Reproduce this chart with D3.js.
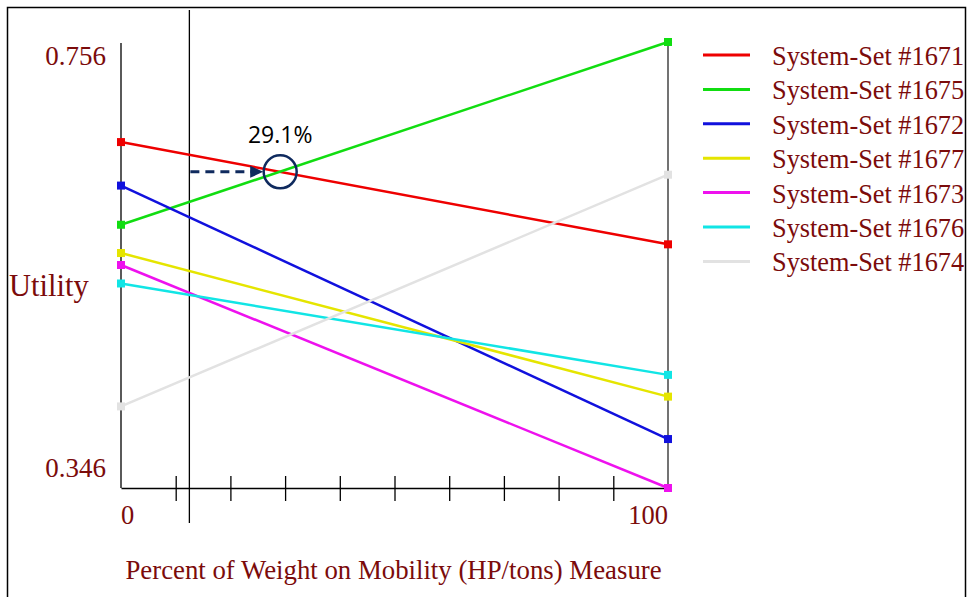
<!DOCTYPE html>
<html><head><meta charset="utf-8">
<script src="https://cdn.jsdelivr.net/npm/d3@7/dist/d3.min.js"></script>
<style>body{margin:0;background:#fff}svg{display:block}</style>
</head><body>
<svg id="c" width="972" height="597"></svg>
<script>
const seriesNames = ["System-Set #1671","System-Set #1675","System-Set #1672","System-Set #1677","System-Set #1673","System-Set #1676","System-Set #1674"];
const seriesColors = ["#ee0000","#11dd11","#1111dd","#e5e500","#ee11ee","#11e5e5","#e2e2e2"];
const valuesAt0 = [0.664,0.588,0.624,0.562,0.551,0.534,0.421];
const valuesAt100 = [0.570,0.756,0.391,0.430,0.346,0.450,0.634];
const xEnds = [0,100];
const xTicks = [0,10,20,30,40,50,60,70,80,90,100];
const yTickLabels = ["0.756","0.346"];
const yDomain = [0.346,0.756];
const markerX = 12.5;
const crossPct = 29.1;

const svg = d3.select("#c");
const x = d3.scaleLinear().domain([0,100]).range([121,668]);
const y = d3.scaleLinear().domain(yDomain).range([488,42]);
const dark = "#7b0b0b";
const serif = "'Liberation Serif','Times New Roman',serif";

// outer border
svg.append("path").attr("d","M7.5,600 V7.5 H965.5 V600").attr("fill","none").attr("stroke","#000").attr("stroke-width",1.5);

// left axis
svg.append("line").attr("x1",x(0)).attr("x2",x(0)).attr("y1",43).attr("y2",488).attr("stroke","#000").attr("stroke-width",1.3);
// right axis
svg.append("line").attr("x1",x(100)).attr("x2",x(100)).attr("y1",40).attr("y2",488).attr("stroke","#444").attr("stroke-width",1.5);
// bottom axis with ticks crossing
const xAxis = d3.axisBottom(x).tickValues(xTicks.slice(1,-1)).tickSize(0).tickFormat("");
const gx = svg.append("g").attr("transform","translate(0,488)").call(xAxis);
gx.select(".domain").attr("stroke","#000").attr("stroke-width",1.3);
gx.selectAll(".tick").append("line").attr("y1",-12).attr("y2",13).attr("stroke","#000").attr("stroke-width",1.3);

// marker vertical line
svg.append("line").attr("x1",x(markerX)).attr("x2",x(markerX)).attr("y1",10).attr("y2",523).attr("stroke","#000").attr("stroke-width",1.3);

// series lines
seriesNames.forEach((n,i)=>{
  const pts = [[xEnds[0],valuesAt0[i]],[xEnds[1],valuesAt100[i]]];
  svg.append("path").attr("d",d3.line().x(d=>x(d[0])).y(d=>y(d[1]))(pts))
    .attr("stroke",seriesColors[i]).attr("stroke-width",2.5).attr("fill","none");
});
seriesNames.forEach((n,i)=>{
  const pts = [[xEnds[0],valuesAt0[i]],[xEnds[1],valuesAt100[i]]];
  svg.selectAll(null).data(pts).enter().append("rect")
    .attr("x",d=>x(d[0])-4).attr("y",d=>y(d[1])-4).attr("width",8).attr("height",8)
    .attr("fill",seriesColors[i]);
});

// y labels
svg.append("text").attr("x",106).attr("y",y(yDomain[1])+23).attr("text-anchor","end")
  .attr("font-family",serif).attr("font-size",27).attr("fill",dark).text(yTickLabels[0]);
svg.append("text").attr("x",106).attr("y",y(yDomain[0])-11).attr("text-anchor","end")
  .attr("font-family",serif).attr("font-size",27).attr("fill",dark).text(yTickLabels[1]);
svg.append("text").attr("x",9).attr("y",296).attr("font-family",serif).attr("font-size",30.5).attr("fill",dark).text("Utility");

// x labels
svg.append("text").attr("x",x(0)).attr("y",524).attr("font-family",serif).attr("font-size",26.5).attr("fill",dark).text(String(xEnds[0]));
svg.append("text").attr("x",x(100)).attr("y",524).attr("text-anchor","end").attr("font-family",serif).attr("font-size",26.5).attr("fill",dark).text(String(xEnds[1]));
svg.append("text").attr("x",393.5).attr("y",579).attr("text-anchor","middle").attr("font-family",serif).attr("font-size",26.8).attr("fill",dark)
  .text("Percent of Weight on Mobility (HP/tons) Measure");

// annotation: crossing of red and green
const iR = 0;
const cx = x(crossPct);
const t = crossPct/100;
const cy = y(valuesAt0[iR] + (valuesAt100[iR]-valuesAt0[iR])*t);
const navy = "#0f2a5e";
svg.append("line").attr("x1",x(markerX)+1).attr("x2",cx-29).attr("y1",cy).attr("y2",cy)
  .attr("stroke",navy).attr("stroke-width",3).attr("stroke-dasharray","9,6");
svg.append("path").attr("d",`M${cx-30},${cy-6} L${cx-17},${cy} L${cx-30},${cy+6} Z`).attr("fill",navy);
svg.append("circle").attr("cx",cx).attr("cy",cy).attr("r",16.5).attr("fill","none").attr("stroke",navy).attr("stroke-width",2.5);
svg.append("text").attr("x",cx).attr("y",143).attr("text-anchor","middle")
  .attr("font-family","'Open Sans','Liberation Sans',sans-serif").attr("font-size",23).attr("fill","#000").text(crossPct.toFixed(1)+"%");

// legend
const lg = svg.append("g");
seriesNames.forEach((n,i)=>{
  const ly = 55 + i*34.4;
  lg.append("line").attr("x1",703).attr("x2",750).attr("y1",ly).attr("y2",ly).attr("stroke",seriesColors[i]).attr("stroke-width",3);
  lg.append("text").attr("x",772).attr("y",ly+10).attr("font-family",serif).attr("font-size",26.3).attr("fill",dark).text(n);
});
</script>
</body></html>
